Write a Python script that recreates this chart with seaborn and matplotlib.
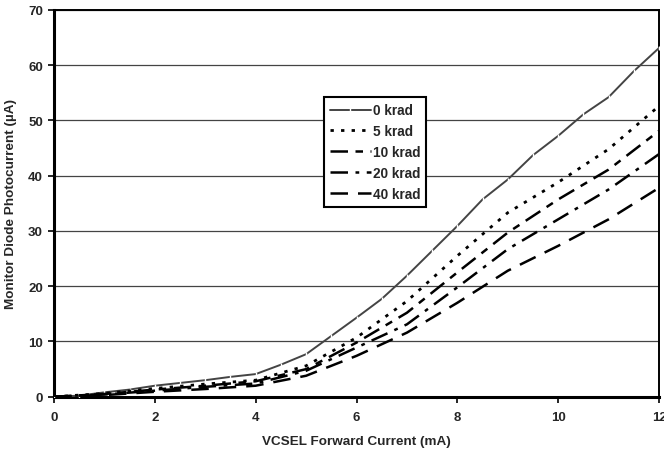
import matplotlib
matplotlib.use("Agg")
import matplotlib.pyplot as plt
import seaborn as sns
import pandas as pd

x0 = [0, 0.5, 1, 1.5, 2, 2.5, 3, 3.5, 4, 4.5, 5, 5.5, 6, 6.5, 7, 7.5, 8, 8.5, 9, 9.5, 10, 10.5, 11, 11.5, 12]
y_0krad = [0, 0.2, 0.8, 1.3, 2.0, 2.5, 3.0, 3.6, 4.1, 5.8, 7.7, 11.0, 14.3, 17.7, 21.9, 26.4, 30.9, 35.7, 39.3, 43.7, 47.2, 51.1, 54.2, 58.9, 63.1]

x1 = [0, 1, 2, 3, 4, 5, 6, 7, 8, 9, 10, 11, 12]
y_5krad = [0, 0.6, 1.5, 2.3, 3.0, 5.6, 10.7, 17.3, 25.5, 33.3, 38.8, 44.8, 52.6]
y_10krad = [0, 0.5, 1.3, 2.0, 2.8, 5.0, 9.8, 15.2, 22.5, 29.7, 35.7, 41.1, 48.1]
y_20krad = [0, 0.4, 1.1, 1.8, 2.4, 4.7, 8.9, 13.1, 19.8, 26.7, 32.1, 37.5, 43.9]
y_40krad = [0, 0.3, 0.9, 1.4, 2.0, 3.8, 7.4, 11.6, 17.0, 22.8, 27.3, 32.1, 37.8]

labels = ["0 krad", "5 krad", "10 krad", "20 krad", "40 krad"]
xticks = [0, 2, 4, 6, 8, 10, 12]
yticks = [0, 10, 20, 30, 40, 50, 60, 70]

sns.set_theme(style="white")
plt.rcParams['font.family'] = ['Liberation Sans', 'DejaVu Sans']

fig = plt.figure(figsize=(6.64, 4.52), dpi=100)
ax = fig.add_axes([0.0813, 0.120, 0.9112, 0.856])

series = [
    (x0, y_0krad, dict(color="#444444", lw=1.4, marker="|", markersize=3, markeredgewidth=1, linestyle="-")),
    (x1, y_5krad, dict(color="black", lw=2.0, linestyle=(0, (1.2, 2.6)))),
    (x1, y_10krad, dict(color="black", lw=1.8, linestyle=(0, (7, 3, 3, 3)))),
    (x1, y_20krad, dict(color="black", lw=1.8, linestyle=(0, (7, 3, 1.5, 3)))),
    (x1, y_40krad, dict(color="black", lw=1.8, linestyle=(0, (7, 4)))),
]
for (xs, ys, st), lab in zip(series, labels):
    df = pd.DataFrame({"x": xs, "y": ys})
    sns.lineplot(data=df, x="x", y="y", ax=ax, label=lab, zorder=3, **st)

ax.set_xlim(0, 12)
ax.set_ylim(0, 70)
ax.set_xticks(xticks)
ax.set_yticks(yticks)
ax.set_xticklabels([str(t) for t in xticks], fontsize=9.5, fontweight="bold")
ax.set_yticklabels([str(t) for t in yticks], fontsize=9.5, fontweight="bold")
ax.yaxis.grid(True, color="#444444", lw=0.9)
ax.xaxis.grid(False)
ax.tick_params(axis="both", direction="out", length=4, width=1.2, color="black", bottom=True, left=True)
ax.tick_params(axis="x", pad=6)
ax.tick_params(axis="y", pad=4)
for s in ["left", "bottom"]:
    ax.spines[s].set_linewidth(2.2)
    ax.spines[s].set_color("black")
for s in ["top", "right"]:
    ax.spines[s].set_linewidth(1.4)
    ax.spines[s].set_color("black")
    ax.spines[s].set_visible(True)

ax.set_xlabel("VCSEL Forward Current (mA)", fontsize=9.7, fontweight="bold", labelpad=9)
ax.set_ylabel("Monitor Diode Photocurrent (µA)", fontsize=9.7, fontweight="bold", labelpad=8)

leg = ax.legend(loc="upper left", bbox_to_anchor=(0.446, 0.774), borderaxespad=0, frameon=True, fancybox=False,
                edgecolor="black", framealpha=1, prop={"weight": "bold", "size": 9.8},
                handlelength=3.0, handletextpad=0.15, labelspacing=0.5, borderpad=0.45)
leg.get_frame().set_linewidth(1.5)

fig.savefig("out.png", dpi=100)
